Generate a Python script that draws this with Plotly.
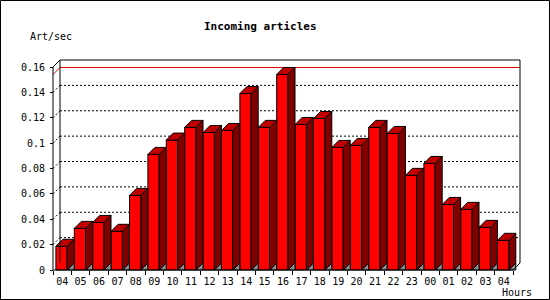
import plotly.graph_objects as go

# ---------------- data ----------------
hours = ["04", "05", "06", "07", "08", "09", "10", "11", "12", "13", "14", "15", "16",
         "17", "18", "19", "20", "21", "22", "23", "00", "01", "02", "03", "04"]
art_per_sec = [0.0187, 0.0328, 0.0375, 0.0305, 0.0588, 0.0911, 0.1024, 0.1124, 0.1084,
               0.1100, 0.1391, 0.1124, 0.1541, 0.1147, 0.1194, 0.0966, 0.0982, 0.1124,
               0.1076, 0.0746, 0.0840, 0.0517, 0.0478, 0.0336, 0.0234]
y_tick_vals = [0, 0.02, 0.04, 0.06, 0.08, 0.10, 0.12, 0.14, 0.16]
y_tick_text = ["0", "0.02", "0.04", "0.06", "0.08", "0.1", "0.12", "0.14", "0.16"]
title_text = "Incoming articles"
y_title = "Art/sec"
x_title = "Hours"

# ---------------- geometry / style ----------------
FONT = "DejaVu Sans Mono"
PX_X = 18.4          # px per category
PX_Y = 1268.75       # px per unit value
DEPTH = 7            # 3D depth in px
dx = DEPTH / PX_X
dy = DEPTH / PX_Y
bar_off = 2.9 / PX_X
bar_w = 11.3 / PX_X

n = len(hours)
x_lo = -0.5 - 2 / PX_X
x_hi = n - 0.5 + dx + 2 / PX_X
y_top = y_tick_vals[-1]
y_lo = -4 / PX_Y
y_hi = y_top + dy + 2 / PX_Y

PLOT_W = (x_hi - x_lo) * PX_X
PLOT_H = (y_hi - y_lo) * PX_Y
L, T = 51, 58
R = 550 - L - PLOT_W
B = 300 - T - PLOT_H


def pxx(px):
    return (px - L) / PLOT_W


def pxy(py):
    return (T + PLOT_H - py) / PLOT_H


FRONT = "#ff0000"
TOP = "#c00000"
SIDE = "#800000"
FLOOR = "#909090"

# ---------------- 3D faces ----------------
tx, ty, sx, sy, gx, gy = [], [], [], [], [], []
for i, v in enumerate(art_per_sec):
    xl = i - 0.5 + bar_off
    xr = xl + bar_w
    tx += [xl, xl + dx, xr + dx, xr, xl, None]
    ty += [v, v + dy, v + dy, v, v, None]
    sx += [xr, xr + dx, xr + dx, xr, xr, None]
    sy += [v, v + dy, dy, 0, v, None]
    gx += [xr, xr + dx, xr + dx, xr, None]
    gy += [0, dy, 0, 0, None]

fig = go.Figure()
fig.add_trace(go.Bar(
    x=list(range(n)), y=art_per_sec, offset=-0.5 + bar_off, width=bar_w,
    marker=dict(color=FRONT, line=dict(color="black", width=1)),
    hoverinfo="skip", showlegend=False))
for xs, ys, col in [(gx, gy, FLOOR), (sx, sy, SIDE), (tx, ty, TOP)]:
    fig.add_trace(go.Scatter(
        x=xs, y=ys, mode="lines", fill="toself", fillcolor=col,
        line=dict(color="black", width=1), hoverinfo="skip", showlegend=False))

shapes = []
# back-plane dotted gridlines + left-wall diagonals
for v in y_tick_vals[1:-1]:
    shapes.append(dict(type="line", xref="x", yref="y", x0=-0.5 + dx, x1=n - 0.5 + dx,
                       y0=v + dy, y1=v + dy, layer="below",
                       line=dict(color="black", width=1, dash="2px,2px")))
    shapes.append(dict(type="line", xref="x", yref="y", x0=-0.5, x1=-0.5 + dx,
                       y0=v, y1=v + dy, layer="below",
                       line=dict(color="black", width=1, dash="2px,2px")))
# max line (red)
vmax = max(art_per_sec)
shapes.append(dict(type="path", xref="x", yref="y", layer="below",
                   path=f"M{-0.5},{vmax} L{-0.5 + dx},{vmax + dy} L{n - 0.5 + dx},{vmax + dy}",
                   line=dict(color="#e00000", width=1)))
# box frame
frame = [
    (-0.5 + dx, y_top + dy, n - 0.5 + dx, y_top + dy),   # back top
    (-0.5 + dx, dy, -0.5 + dx, y_top + dy),              # back left
    (n - 0.5 + dx, dy, n - 0.5 + dx, y_top + dy),        # back right
    (-0.5, y_top, -0.5 + dx, y_top + dy),                # left wall top
    (-0.5, 0, -0.5, y_top),                              # front y axis
    (-0.5, 0, n - 0.5, 0),                               # front floor line
    (n - 0.5, 0, n - 0.5 + dx, dy),                      # floor right diagonal
]
for x0, y0, x1, y1 in frame:
    shapes.append(dict(type="line", xref="x", yref="y", x0=x0, y0=y0, x1=x1, y1=y1,
                       layer="above", line=dict(color="black", width=1)))
# outer border
shapes.append(dict(type="rect", xref="paper", yref="paper",
                   x0=pxx(0.5), x1=pxx(549.5), y0=pxy(299.5), y1=pxy(0.5),
                   line=dict(color="black", width=1), layer="above"))

annotations = [
    dict(text=f"<b>{title_text}</b>", xref="paper", yref="paper", x=pxx(260), y=pxy(27),
         xanchor="center", yanchor="middle", showarrow=False,
         font=dict(family=FONT, size=11, color="black")),
    dict(text=y_title, xref="paper", yref="paper", x=pxx(28), y=pxy(37),
         xanchor="left", yanchor="middle", showarrow=False,
         font=dict(family=FONT, size=10, color="black")),
    dict(text=x_title, xref="paper", yref="paper", x=pxx(534), y=pxy(292),
         xanchor="right", yanchor="middle", showarrow=False,
         font=dict(family=FONT, size=10, color="black")),
]

fig.update_layout(
    width=550, height=300,
    margin=dict(l=L, r=R, t=T, b=B, pad=0),
    paper_bgcolor="white", plot_bgcolor="white",
    shapes=shapes, annotations=annotations,
    showlegend=False,
    font=dict(family=FONT, size=10, color="black"),
    xaxis=dict(range=[x_lo, x_hi], showgrid=False, zeroline=False, showline=False,
               tickmode="array", tickvals=list(range(n)), ticktext=hours, ticks="",
               anchor="free", position=4 / PLOT_H, ticklabelstandoff=4,
               minor=dict(tickmode="array", tickvals=[i - 0.5 for i in range(n + 1)],
                          ticks="outside", ticklen=4, tickcolor="black", tickwidth=1,
                          showgrid=False),
               tickfont=dict(family=FONT, size=10, color="black")),
    yaxis=dict(range=[y_lo, y_hi], showgrid=False, zeroline=False, showline=False,
               tickmode="array", tickvals=y_tick_vals, ticktext=y_tick_text,
               ticks="outside", ticklen=3, tickcolor="black", tickwidth=1,
               anchor="free", position=2 / PLOT_W, ticklabelstandoff=3,
               tickfont=dict(family=FONT, size=10, color="black")),
)

fig.write_html("out.html")
